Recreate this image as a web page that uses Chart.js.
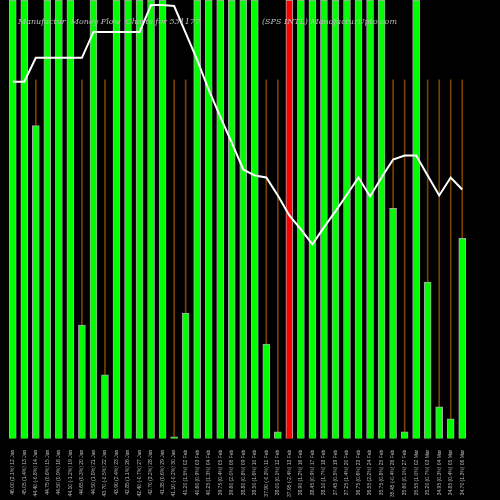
<!DOCTYPE html>
<html><head><script src="https://cdn.jsdelivr.net/npm/chart.js@4"></script>
<style>html,body{margin:0;background:#000}#w{width:500px;height:500px}</style></head>
<body><div id="w"><canvas id="c"></canvas></div>
<script>
const labels=["46.00 (2.1%) 12 Jan","45.05 (1.4%) 13 Jan","44.40 (-0.8%) 14 Jan","44.75 (0.6%) 15 Jan","44.50 (0.9%) 16 Jan","44.10 (-1.2%) 19 Jan","44.65 (0.3%) 20 Jan","44.50 (1.8%) 21 Jan","43.70 (-0.5%) 22 Jan","43.90 (2.4%) 23 Jan","42.85 (1.1%) 26 Jan","42.40 (-0.7%) 27 Jan","42.70 (3.2%) 28 Jan","41.35 (0.6%) 29 Jan","41.10 (-0.2%) 30 Jan","41.20 (1.5%) 02 Feb","40.60 (0.9%) 03 Feb","40.25 (1.3%) 04 Feb","39.75 (0.4%) 05 Feb","39.60 (2.0%) 06 Feb","38.80 (0.8%) 09 Feb","38.50 (1.6%) 10 Feb","37.90 (-0.3%) 11 Feb","38.00 (0.1%) 12 Feb","37.95 (-2.4%) 13 Feb","38.90 (1.2%) 16 Feb","38.45 (0.9%) 17 Feb","38.10 (1.7%) 18 Feb","37.45 (0.5%) 19 Feb","37.25 (1.4%) 20 Feb","36.75 (0.6%) 23 Feb","36.55 (2.2%) 24 Feb","35.75 (0.8%) 25 Feb","35.45 (-0.4%) 26 Feb","35.60 (0.1%) 27 Feb","35.55 (1.0%) 02 Mar","35.20 (0.7%) 03 Mar","34.95 (0.3%) 04 Mar","34.85 (0.4%) 05 Mar","34.70 (1.3%) 06 Mar"];
const volume=[440,440,314,440,440,440,114,440,64,440,440,440,440,440,2,126,440,440,440,440,440,440,95,7,440,440,440,440,440,440,440,440,440,231,7,440,157,32,20,201];
const barColors=volume.map((v,i)=>i===24?"#ff0000":"#00ff00");
const guide=volume.map(()=>360);
const flow=[358,358,382,382,382,382,382,408,408,408,408,408,435,435,434,407,380,350,323,297,270,264,262,244,224,210,195,212,228,245,262,243,262,280,284,284,264,244,262,250];
new Chart(document.getElementById("c"),{
 data:{labels,datasets:[
  {type:"line",data:flow,borderColor:"#fff",borderWidth:2,pointRadius:0,tension:0,order:0},
  {type:"bar",data:volume,backgroundColor:barColors,borderColor:"#aaa",borderWidth:1,barThickness:7,grouped:false,order:1},
  {type:"bar",data:guide,backgroundColor:"#7a4000",barThickness:1,grouped:false,order:2}
 ]},
 options:{responsive:true,maintainAspectRatio:false,animation:false,
  layout:{padding:{left:7,right:32,top:0,bottom:0}},
  plugins:{legend:{display:false},tooltip:{enabled:false}},
  scales:{x:{offset:true,grid:{display:false},border:{display:false},
     ticks:{color:"#bbb",font:{size:5},maxRotation:90,minRotation:90,autoSkip:false}},
   y:{min:0,max:440,display:false}}},
 plugins:[{id:"t",afterDraw(ch){const c=ch.ctx;c.save();c.fillStyle="#bbb";c.font="italic 8px 'DejaVu Serif'";
   c.fillText("Manufactur  Money Flow  Charts for 531177",18,24);c.fillText("(SPS INTL) ManofacturUpto.com",262,24);c.restore();}}]
});
</script></body></html>
